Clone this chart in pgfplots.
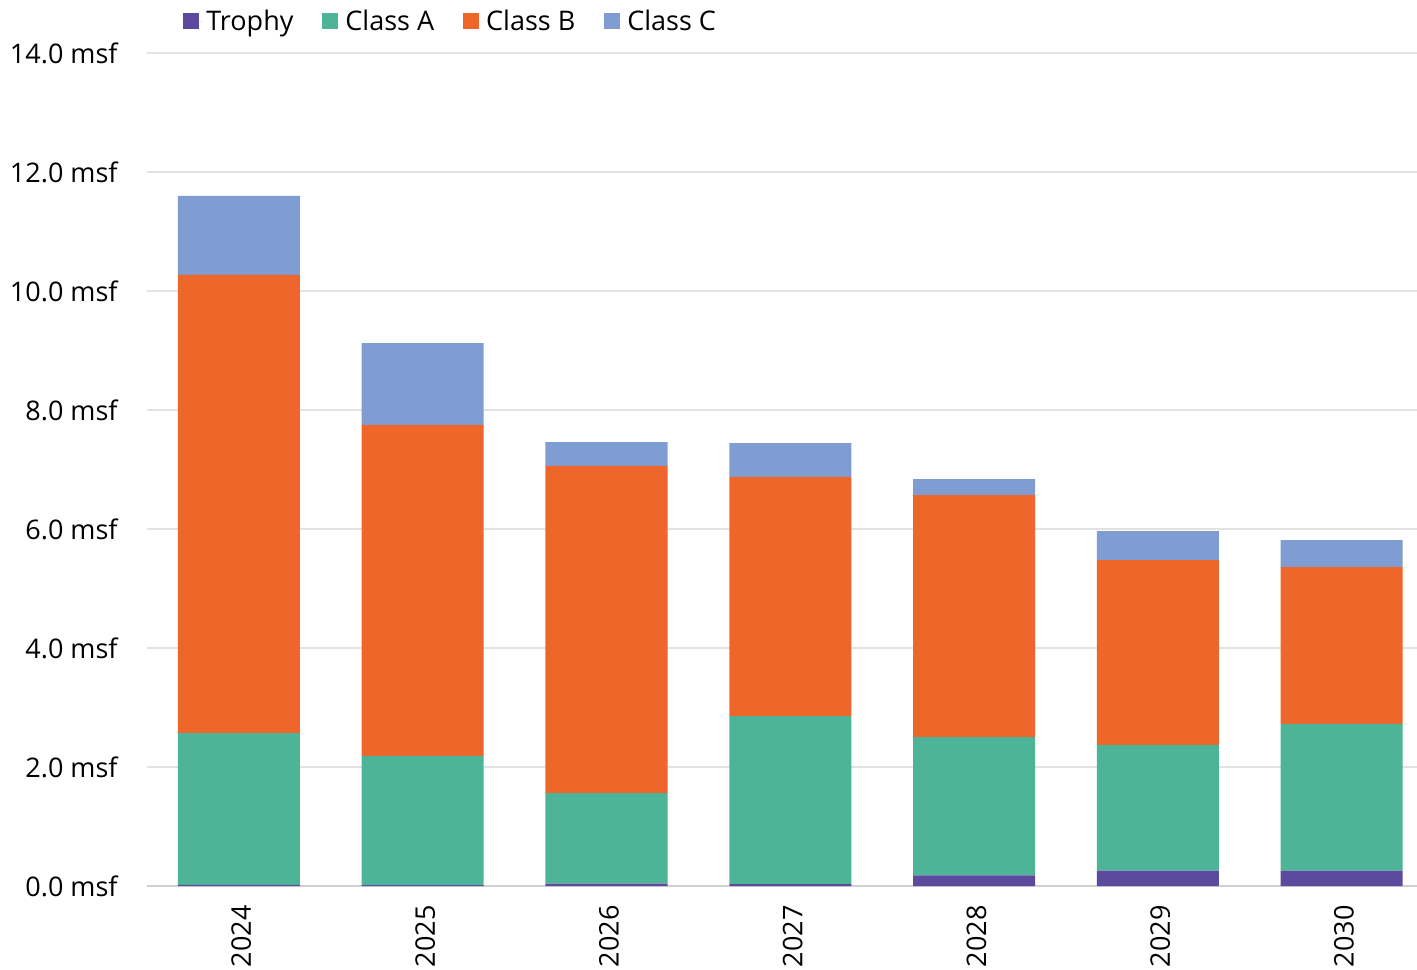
\documentclass[border=0pt]{standalone}
\usepackage{pgfplots}
\pgfplotsset{compat=1.18}
\usepackage{fontspec}
\setmainfont{Open Sans}
\definecolor{trophy}{HTML}{5B4A9E}
\definecolor{classa}{HTML}{4DB497}
\definecolor{classb}{HTML}{EE6629}
\definecolor{classc}{HTML}{7F9DD2}
\definecolor{gridc}{HTML}{E2E2E2}
\definecolor{axc}{HTML}{D0D0D0}
\begin{document}
\begin{tikzpicture}
\begin{axis}[
  scale only axis,
  width=635pt, height=416.5pt,
  ybar stacked,
  bar width=0.664,
  xmin=-0.5, xmax=6.41,
  ymin=0, ymax=14,
  ytick={0,2,...,14},
  xtick={0,...,6},
  xticklabels={2024,2025,2026,2027,2028,2029,2030},
  major tick length=0pt,
  axis line style={draw=none},
  ymajorgrids,
  grid style={gridc, line width=0.6pt},
  font=\fontsize{13.5}{16}\selectfont,
  /pgf/number format/assume math mode=true,
  yticklabel={\pgfmathprintnumber[fixed,fixed zerofill,precision=1]{\tick}~msf},
  yticklabel style={anchor=east, inner sep=0pt, xshift=-14.5pt},
  xticklabel style={rotate=90, anchor=east, inner sep=0pt, xshift=-9.5pt, yshift=-1.2pt},
  legend columns=4,
  legend style={draw=none, fill=none, at={(rel axis cs:0.0283,1.038)}, anchor=west,
    inner sep=0pt, /tikz/every even column/.append style={column sep=12.5pt},
    font=\fontsize{13.5}{16}\selectfont},
  legend image code/.code={\fill[#1] (0pt,-4pt) rectangle (8pt,4pt); \path (0pt,0pt) -- (9.5pt,0pt);},
  legend cell align=left,
  clip=false,
]
\addplot[fill=trophy, draw=none] coordinates {(0,0.02) (1,0.015) (2,0.04) (3,0.03) (4,0.18) (5,0.26) (6,0.26)};
\addplot[fill=classa, draw=none] coordinates {(0,2.551) (1,2.170) (2,1.523) (3,2.827) (4,2.324) (5,2.110) (6,2.463)};
\addplot[fill=classb, draw=none] coordinates {(0,7.698) (1,5.563) (2,5.496) (3,4.017) (4,4.067) (5,3.109) (6,2.638)};
\addplot[fill=classc, draw=none] coordinates {(0,1.328) (1,1.378) (2,0.403) (3,0.571) (4,0.269) (5,0.487) (6,0.454)};
\legend{Trophy, Class A, Class B, Class C}
\draw[axc, line width=1.2pt] (rel axis cs:0,0) -- (rel axis cs:1,0);
\coordinate (o) at (rel axis cs:0,0);
\end{axis}
\pgfresetboundingbox
\path ([xshift=-73.5pt,yshift=-41.5pt]o) rectangle ([xshift=635pt,yshift=443pt]o);
\end{tikzpicture}
\end{document}
